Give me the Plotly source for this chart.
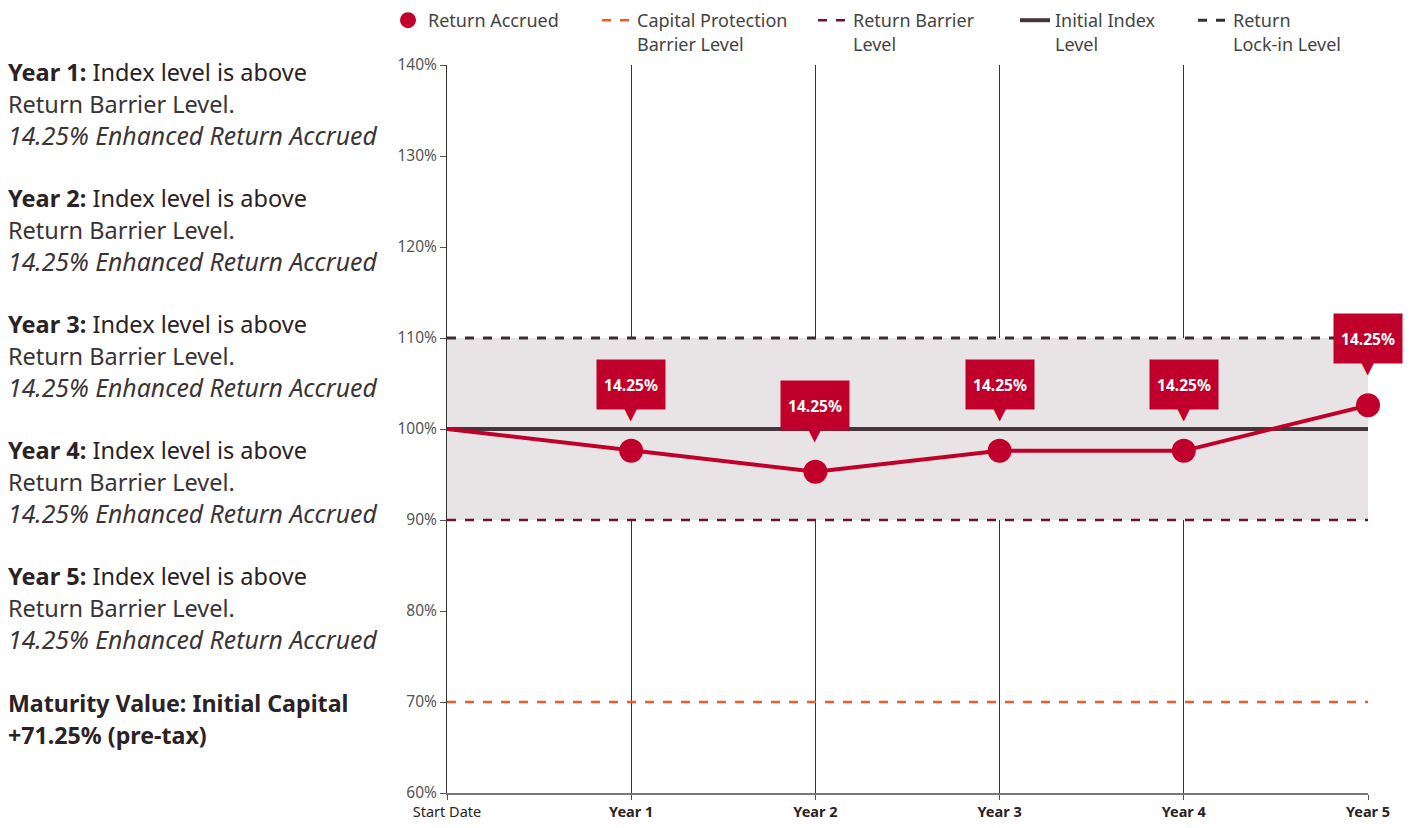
import plotly.graph_objects as go

# ---------------- data ----------------
categories = ["Start Date", "Year 1", "Year 2", "Year 3", "Year 4", "Year 5"]
tick_text = ["Start Date", "<b>Year 1</b>", "<b>Year 2</b>", "<b>Year 3</b>", "<b>Year 4</b>", "<b>Year 5</b>"]
index_level = [100, 97.6, 95.3, 97.6, 97.6, 102.6]
accrued_labels = ["14.25%", "14.25%", "14.25%", "14.25%", "14.25%"]
capital_protection_level = 70
return_barrier_level = 90
initial_index_level = 100
lock_in_level = 110
y_ticks = [60, 70, 80, 90, 100, 110, 120, 130, 140]
y_tick_labels = ["60%", "70%", "80%", "90%", "100%", "110%", "120%", "130%", "140%"]

year_notes = [
    ("Year 1:", "Index level is above", "Return Barrier Level.", "14.25% Enhanced Return Accrued"),
    ("Year 2:", "Index level is above", "Return Barrier Level.", "14.25% Enhanced Return Accrued"),
    ("Year 3:", "Index level is above", "Return Barrier Level.", "14.25% Enhanced Return Accrued"),
    ("Year 4:", "Index level is above", "Return Barrier Level.", "14.25% Enhanced Return Accrued"),
    ("Year 5:", "Index level is above", "Return Barrier Level.", "14.25% Enhanced Return Accrued"),
]
maturity_lines = ["Maturity Value: Initial Capital", "+71.25% (pre-tax)"]

# ---------------- style ----------------
RED = "#c0002a"
ORANGE = "#f25a28"
MAROON = "#6e1038"
DARK = "#46353a"
LOCK = "#3a2c30"
BAND = "#e8e4e6"
TEXT = "#3b3437"
BOLD_TEXT = "#2b2225"
FONT = "Noto Sans"

OFF = 8  # page body margin
W, H = 1400, 812
ML, MR, MT, MB = 439, 40, 57, 27
PH = H - MT - MB
PW = W - ML - MR


def py(p):  # screen pixel -> paper
    return (H - MB - (p - OFF)) / PH


def px(p):
    return ((p - OFF) - ML) / PW


fig = go.Figure()
n = len(categories)

# band + reference lines
fig.add_trace(go.Scatter(x=categories, y=[return_barrier_level] * n, mode="lines",
                         line=dict(color=MAROON, width=2.5, dash="dash"),
                         name="Return Barrier<br>Level", legend="legend3", hoverinfo="skip"))
fig.add_trace(go.Scatter(x=categories, y=[lock_in_level] * n, mode="lines",
                         line=dict(width=0), fill="tonexty", fillcolor=BAND,
                         showlegend=False, hoverinfo="skip"))
fig.add_trace(go.Scatter(x=categories, y=[lock_in_level] * n, mode="lines",
                         line=dict(color=LOCK, width=3, dash="dash"),
                         name="Return<br>Lock-in Level", legend="legend5", hoverinfo="skip"))
fig.add_trace(go.Scatter(x=categories, y=[capital_protection_level] * n, mode="lines",
                         line=dict(color=ORANGE, width=2.5, dash="dash"),
                         name="Capital Protection<br>Barrier Level", legend="legend2", hoverinfo="skip"))
fig.add_trace(go.Scatter(x=categories, y=[initial_index_level] * n, mode="lines",
                         line=dict(color=DARK, width=4),
                         name="Initial Index<br>Level", legend="legend4", hoverinfo="skip"))
fig.add_trace(go.Scatter(x=categories, y=index_level, mode="lines",
                         line=dict(color=RED, width=4), showlegend=False, cliponaxis=False))
fig.add_trace(go.Scatter(x=categories[1:], y=index_level[1:], mode="markers",
                         marker=dict(color=RED, size=24), name="Return Accrued",
                         legend="legend", cliponaxis=False))

# callouts
for cat, val, lab in zip(categories[1:], index_level[1:], accrued_labels):
    fig.add_annotation(x=cat, y=val, xref="x", yref="y", text="<b>%s</b>" % lab,
                       showarrow=False, yanchor="bottom", yshift=41, bgcolor=RED,
                       width=58, height=39, borderpad=5,
                       font=dict(family=FONT, size=15.5, color="white"))
    fig.add_annotation(x=cat, y=val, xref="x", yref="y", text="▼",
                       showarrow=False, yanchor="bottom", yshift=25,
                       font=dict(family="DejaVu Sans", size=20, color=RED))

# left notes
fs = 23.5
for i, (head, rest, l2, l3) in enumerate(year_notes):
    y0 = 72 + 126 * i
    lines = [("<b>%s</b> %s" % (head, rest), BOLD_TEXT, fs),
             (l2, TEXT, fs),
             ("<i>%s</i>" % l3, TEXT, 24.8)]
    for j, (t, c, s) in enumerate(lines):
        fig.add_annotation(x=px(6), y=py(y0 + 31.6 * j), xref="paper", yref="paper",
                           text=t, showarrow=False, xanchor="left", yanchor="middle",
                           font=dict(family=FONT, size=s, color=c))
for j, t in enumerate(maturity_lines):
    fig.add_annotation(x=px(6), y=py(703 + 32 * j), xref="paper", yref="paper",
                       text="<b>%s</b>" % t, showarrow=False, xanchor="left", yanchor="middle",
                       font=dict(family=FONT, size=23.2, color=BOLD_TEXT))

legend_font = dict(family=FONT, size=18, color="#444")
leg_common = dict(orientation="h", yanchor="top", xanchor="left", y=py(2),
                  font=legend_font, bgcolor="rgba(0,0,0,0)", valign="top", itemclick=False)
fig.update_layout(
    legend=dict(x=px(388), **leg_common),
    legend2=dict(x=px(597), **leg_common),
    legend3=dict(x=px(813), **leg_common),
    legend4=dict(x=px(1015), **leg_common),
    legend5=dict(x=px(1193), **leg_common),
)

fig.update_xaxes(type="category", range=[0, n - 1], tickmode="array", tickvals=categories,
                 ticktext=tick_text, showgrid=True, gridcolor="#333", gridwidth=1,
                 showline=True, linecolor="#777", linewidth=2, ticks="outside", ticklen=5,
                 tickcolor="#555", tickfont=dict(family=FONT, size=14.5, color="#2b2225"),
                 zeroline=False, fixedrange=True)
fig.update_yaxes(range=[60, 140], tickmode="array", tickvals=y_ticks, ticktext=y_tick_labels,
                 showgrid=False, showline=True, linecolor="#333", linewidth=1,
                 ticks="outside", ticklen=6, tickcolor="#555",
                 tickfont=dict(family=FONT, size=15.5, color="#555"),
                 zeroline=False, fixedrange=True)

fig.update_layout(width=W, height=H,
                  margin=dict(l=ML, r=MR, t=MT, b=MB, autoexpand=False),
                  plot_bgcolor="white", paper_bgcolor="white", showlegend=True,
                  font=dict(family=FONT))

fig.write_html("out.html")
